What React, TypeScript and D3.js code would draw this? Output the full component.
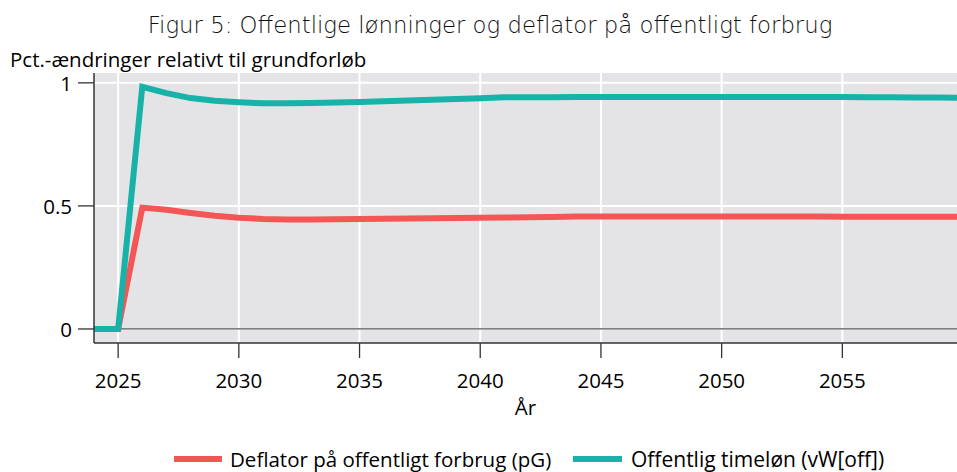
import React from 'react';
import { scaleLinear, line } from 'd3';

// years and series values
const years = [2024, 2025, 2026, 2027, 2028, 2029, 2030, 2031, 2032, 2033, 2034, 2035, 2036, 2037, 2038, 2039, 2040, 2041, 2042, 2043, 2044, 2045, 2046, 2047, 2048, 2049, 2050, 2051, 2052, 2053, 2054, 2055, 2056, 2057, 2058, 2059, 2060];
const deflator = [0, 0, 0.493, 0.484, 0.471, 0.46, 0.452, 0.447, 0.445, 0.445, 0.446, 0.447, 0.448, 0.449, 0.45, 0.451, 0.452, 0.453, 0.454, 0.455, 0.457, 0.457, 0.457, 0.457, 0.457, 0.457, 0.457, 0.457, 0.457, 0.457, 0.457, 0.456, 0.456, 0.456, 0.456, 0.456, 0.456];
const timeloen = [0, 0, 0.984, 0.958, 0.938, 0.927, 0.921, 0.917, 0.917, 0.918, 0.92, 0.922, 0.925, 0.928, 0.931, 0.934, 0.937, 0.941, 0.941, 0.941, 0.942, 0.942, 0.942, 0.942, 0.942, 0.942, 0.942, 0.942, 0.942, 0.942, 0.942, 0.942, 0.941, 0.941, 0.940, 0.940, 0.939];
const xTicks = [2025, 2030, 2035, 2040, 2045, 2050, 2055];
const yTicks = [0, 0.5, 1];
const yTickLabels = ['0', '0.5', '1'];
const seriesNames = ['Deflator på offentligt forbrug (pG)', 'Offentlig timeløn (vW[off])'];
const colors = ['#F45656', '#17B2A8'];

const W = 957, H = 472;
const m = { left: 94, right: 0, top: 73, bottom: 129 };

export default function App() {
  const x = scaleLinear().domain([2024, 2059.75]).range([m.left, W - m.right]);
  const y = scaleLinear().domain([-0.057, 1.04]).range([H - m.bottom, m.top]);
  const mk = (vals: number[]) =>
    line<number>().x((d, i) => x(years[i])).y(d => y(d))(vals) || '';
  const font = "'Open Sans', sans-serif";
  const fs = 20.5;
  const plotBottom = H - m.bottom;

  return (
    <svg width={W} height={H} style={{ position: 'absolute', left: 0, top: 0 }}>
      <defs>
        <clipPath id="plot">
          <rect x={m.left} y={m.top} width={W - m.left - m.right} height={plotBottom - m.top} />
        </clipPath>
      </defs>
      <text x={490} y={33} textAnchor="middle" fontFamily="'DejaVu Sans', sans-serif" fontWeight={300} fontSize={22.8} fill="#111">
        Figur 5: Offentlige lønninger og deflator på offentligt forbrug
      </text>
      <text x={10} y={67} fontFamily={font} fontSize={fs}>Pct.-ændringer relativt til grundforløb</text>
      <rect x={m.left} y={m.top} width={W - m.left - m.right} height={plotBottom - m.top} fill="#E4E4E7" />
      {xTicks.map(t => (
        <line key={t} x1={x(t)} x2={x(t)} y1={m.top} y2={plotBottom} stroke="#fff" strokeWidth={2} />
      ))}
      {yTicks.map(t => (
        <line key={t} x1={m.left} x2={W} y1={y(t)} y2={y(t)} stroke="#fff" strokeWidth={2} />
      ))}
      <line x1={m.left} x2={W} y1={y(0)} y2={y(0)} stroke="#555" strokeWidth={1.3} />
      <g clipPath="url(#plot)">
        {[deflator, timeloen].map((s, i) => (
          <path key={i} d={mk(s)} fill="none" stroke={colors[i]} strokeWidth={6} strokeLinejoin="miter" />
        ))}
      </g>
      <line x1={m.left} x2={m.left} y1={m.top} y2={plotBottom} stroke="#333" strokeWidth={1.5} />
      <line x1={m.left} x2={W} y1={plotBottom} y2={plotBottom} stroke="#333" strokeWidth={1.5} />
      {yTicks.map((t, i) => (
        <g key={t}>
          <line x1={m.left - 16} x2={m.left} y1={y(t)} y2={y(t)} stroke="#333" strokeWidth={1.3} />
          <text x={m.left - 22} y={y(t) + 1} dy="0.35em" textAnchor="end" fontFamily={font} fontSize={fs}>{yTickLabels[i]}</text>
        </g>
      ))}
      {xTicks.map(t => (
        <g key={t}>
          <line x1={x(t)} x2={x(t)} y1={plotBottom} y2={plotBottom + 15} stroke="#333" strokeWidth={1.3} />
          <text x={x(t)} y={388} textAnchor="middle" fontFamily={font} fontSize={fs}>{t}</text>
        </g>
      ))}
      <text x={(m.left + W) / 2} y={415} textAnchor="middle" fontFamily={font} fontSize={fs}>År</text>
      <line x1={174} x2={222} y1={459} y2={459} stroke={colors[0]} strokeWidth={6} />
      <text x={230} y={467} fontFamily={font} fontSize={fs}>{seriesNames[0]}</text>
      <line x1={573} x2={622} y1={459} y2={459} stroke={colors[1]} strokeWidth={6} />
      <text x={631} y={467} fontFamily={font} fontSize={21}>{seriesNames[1]}</text>
    </svg>
  );
}
